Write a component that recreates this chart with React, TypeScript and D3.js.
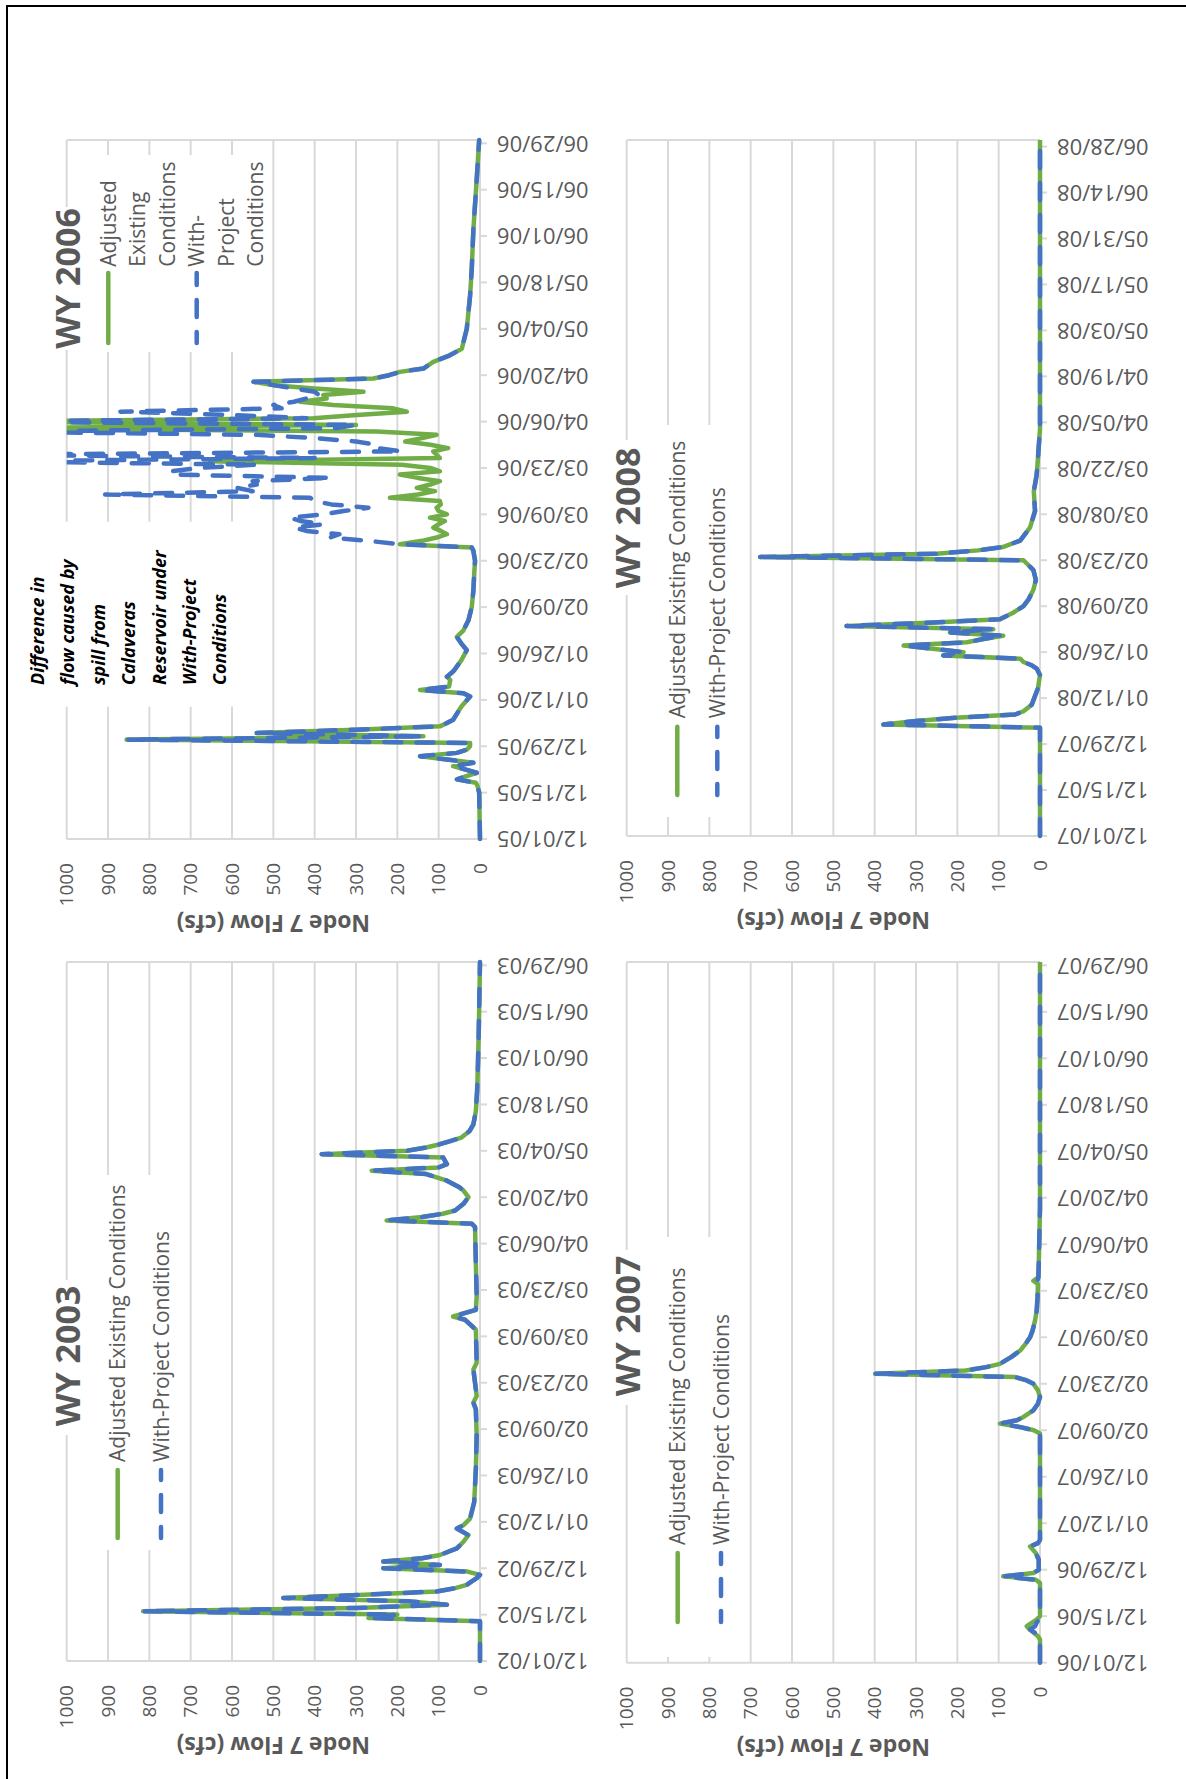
import React from 'react';
import * as d3 from 'd3';

// Node 7 daily flow (cfs); days are counted from Dec 1 of each water year
const wy2003Days = [0, 12, 13, 14, 15, 16, 17, 18, 19, 20, 21, 22, 23, 24, 25, 26, 27, 28, 29, 30, 31, 32, 34, 36, 38, 40, 41, 43, 48, 58, 68, 76, 78, 80, 84, 88, 90, 100, 103, 104, 106, 110, 120, 131, 132, 133, 134, 135, 136, 138, 140, 142, 143, 145, 147, 148, 149, 150, 151, 152, 153, 154, 155, 156, 157, 158, 160, 162, 166, 172, 180, 190, 211];
const wy2003Flow = [0, 0, 270, 200, 815, 300, 80, 170, 476, 280, 105, 60, 32, 20, 8, 0, 30, 234, 97, 234, 140, 97, 56, 40, 28, 56, 40, 24, 14, 10, 8, 10, 16, 8, 12, 16, 8, 10, 36, 65, 10, 8, 10, 12, 20, 226, 140, 90, 60, 40, 28, 40, 50, 80, 130, 262, 100, 80, 85, 89, 383, 177, 130, 97, 70, 45, 25, 16, 10, 7, 5, 3, 0];

const wy2006Days = [
  0, 14, 16, 17, 18, 20, 22, 23, 25, 26,
  27, 28, 29, 30, 31, 32, 33, 34, 35, 36,
  38, 40, 43, 44, 45, 46, 48, 49, 50, 51,
  54, 57, 59, 61, 63, 66, 70, 75, 80, 84,
  87, 88, 89, 90, 91, 92, 93, 94, 95, 96,
  97, 98, 99, 100, 101, 102, 103, 104, 105, 106,
  107, 108, 109, 110, 111, 112, 113, 114, 115, 116,
  117, 118, 119, 120, 121, 122, 123, 124, 125, 126,
  127, 128, 129, 130, 131, 132, 133, 134, 135, 136,
  137, 138, 139, 140, 141, 142, 144, 146, 148, 154,
  164, 172, 184, 199, 211,
];
const wy2006Adjusted = [
  0, 2, 6, 10, 56, 8, 65, 16, 145, 56,
  32, 24, 24, 855, 137, 540, 300, 97, 80, 65,
  55, 45, 24, 40, 145, 75, 72, 80, 70, 62,
  45, 32, 45, 56, 40, 28, 20, 16, 14, 12,
  16, 20, 194, 140, 105, 80, 95, 113, 100, 85,
  121, 80, 100, 105, 95, 97, 218, 150, 109, 153,
  120, 97, 150, 194, 97, 120, 190, 653, 97, 105,
  113, 77, 120, 181, 140, 105, 250, 1200, 300, 1200,
  403, 298, 177, 210, 355, 435, 371, 379, 282, 400,
  500, 548, 258, 220, 194, 137, 113, 73, 44, 32,
  24, 20, 16, 8, 2,
];
// With-Project flow differs from the adjusted flow only while Calaveras spills
const wy2006SpillDays = d3.range(89, 139);
const wy2006SpillFlow = [
  194, 270, 363, 340, 420, 450, 380, 435, 460, 380,
  330, 270, 360, 400, 411, 907, 550, 589, 540, 550,
  360, 740, 750, 680, 540, 1200, 400, 1200, 190, 250,
  250, 300, 400, 540, 1200, 350, 300, 1200, 420, 600,
  870, 480, 500, 450, 420, 390, 400, 450, 500, 548,
];

const wy2007Days = [0, 7, 8, 9, 10, 11, 12, 13, 14, 24, 25, 26, 27, 28, 31, 33, 35, 36, 37, 69, 70, 71, 72, 73, 74, 76, 78, 80, 82, 84, 85, 86, 87, 88, 89, 90, 92, 94, 96, 98, 100, 103, 106, 110, 114, 115, 116, 120, 137, 211];
const wy2007Adjusted = [0, 0, 5, 15, 25, 32, 20, 8, 0, 0, 10, 89, 16, 3, 3, 10, 24, 5, 0, 0, 15, 50, 97, 56, 40, 16, 5, 0, 5, 16, 32, 60, 399, 180, 130, 97, 70, 48, 35, 24, 18, 12, 8, 6, 5, 16, 4, 3, 0, 0];
const wy2007Project = [0, 0, 5, 12, 24, 12, 8, 3, 0, 0, 10, 89, 16, 3, 3, 10, 24, 5, 0, 0, 15, 50, 97, 56, 40, 16, 5, 0, 5, 16, 32, 60, 399, 180, 130, 97, 70, 48, 35, 24, 18, 12, 8, 6, 5, 6, 4, 3, 0, 0];

const wy2008Days = [0, 33, 34, 35, 36, 37, 38, 40, 42, 45, 49, 51, 52, 53, 54, 55, 56, 58, 59, 60, 61, 62, 63, 64, 65, 66, 68, 70, 72, 75, 78, 81, 83, 84, 85, 86, 87, 88, 90, 94, 99, 105, 110, 115, 124, 212];
const wy2008Flow = [0, 0, 379, 300, 205, 60, 40, 20, 14, 5, 0, 8, 20, 40, 48, 234, 185, 330, 177, 137, 89, 218, 113, 468, 258, 97, 65, 40, 28, 16, 10, 16, 32, 40, 677, 250, 150, 90, 48, 24, 12, 15, 8, 5, 0, 0];

const valueTicks = d3.range(0, 1001, 100);
const tickDays = d3.range(0, 211, 14);

const GREEN = '#70AD47';
const BLUE = '#4472C4';
const GRID = '#D9D9D9';
const TEXT = '#595959';
const FONT = "'Open Sans', 'Noto Sans', sans-serif";
const LINE_GAP = 29.5;
const LINE_W = 4.5;
const DASH = '17 15';

type Pt = [number, number];

const pts = (days: number[], flow: number[]) => d3.zip(days, flow) as Pt[];

const wy2006Green = pts(wy2006Days, wy2006Adjusted);
const wy2006Blue = [
  ...wy2006Green.filter(p => p[0] < 89),
  ...pts(wy2006SpillDays, wy2006SpillFlow),
  ...wy2006Green.filter(p => p[0] > 138),
];

interface LegendEntry { color: string; dashed: boolean; x: number; y0: number; y1: number; textY: number; lines: string[]; }
interface PanelCfg {
  id: string; start: string; end: string;
  left: number; right: number; top: number; bottom: number;
  title: string; titleX: number; titleY: number;
  titleBox: number[]; legendBox: number[];
  legend: LegendEntry[];
  green: Pt[]; blue: Pt[];
}

const entries = (gx: number, bx: number, y0: number, y1: number, textY: number, g: string[], b: string[]): LegendEntry[] => [
  { color: GREEN, dashed: false, x: gx, y0, y1, textY, lines: g },
  { color: BLUE, dashed: true, x: bx, y0, y1, textY, lines: b },
];

const panels: PanelCfg[] = [
  {
    id: 'p2006', start: '2005-12-01', end: '2006-06-30',
    left: 66.7, right: 480, top: 140, bottom: 839,
    title: 'WY 2006', titleX: 80, titleY: 278.5,
    titleBox: [48, 207, 38, 143], legendBox: [88, 155, 180, 197],
    legend: entries(108.3, 196.7, 343, 273, 266.7, ['Adjusted', 'Existing', 'Conditions'], ['With-', 'Project', 'Conditions']),
    green: wy2006Green, blue: wy2006Blue,
  },
  {
    id: 'p2008', start: '2007-12-01', end: '2008-06-30',
    left: 626.7, right: 1040, top: 140, bottom: 836,
    title: 'WY 2008', titleX: 640, titleY: 518,
    titleBox: [608, 440, 38, 155], legendBox: [648, 425, 100, 392],
    legend: entries(677.3, 717.3, 795, 726.7, 718.3, ['Adjusted Existing Conditions'], ['With-Project Conditions']),
    green: pts(wy2008Days, wy2008Flow), blue: pts(wy2008Days, wy2008Flow),
  },
  {
    id: 'p2003', start: '2002-12-01', end: '2003-06-30',
    left: 66.7, right: 480, top: 962, bottom: 1661,
    title: 'WY 2003', titleX: 80, titleY: 1356,
    titleBox: [48, 1280, 38, 155], legendBox: [88, 1175, 100, 375],
    legend: entries(117.7, 161, 1538, 1470, 1462, ['Adjusted Existing Conditions'], ['With-Project Conditions']),
    green: pts(wy2003Days, wy2003Flow), blue: pts(wy2003Days, wy2003Flow),
  },
  {
    id: 'p2007', start: '2006-12-01', end: '2007-06-30',
    left: 626.7, right: 1040, top: 962, bottom: 1662.7,
    title: 'WY 2007', titleX: 640, titleY: 1326,
    titleBox: [608, 1250, 38, 155], legendBox: [648, 1237, 100, 420],
    legend: entries(677.7, 721, 1622, 1553, 1545, ['Adjusted Existing Conditions'], ['With-Project Conditions']),
    green: pts(wy2007Days, wy2007Adjusted), blue: pts(wy2007Days, wy2007Project),
  },
];

const noteLines = ['Difference in', 'flow caused by', 'spill from', 'Calaveras', 'Reservoir under', 'With-Project', 'Conditions'];

const parse = d3.utcParse('%Y-%m-%d');
const fmt = d3.utcFormat('%m/%d/%y');

function Panel({ cfg }: { cfg: PanelCfg }) {
  const start = parse(cfg.start)!;
  const end = parse(cfg.end)!;
  const y = d3.scaleUtc().domain([start, end]).range([cfg.bottom, cfg.top]);
  const x = d3.scaleLinear().domain([0, 1000]).range([cfg.right, cfg.left]);
  const line = d3.line<Pt>()
    .x(d => x(d[1]))
    .y(d => y(d3.utcDay.offset(start, d[0])));
  const ticks = tickDays.map(d => d3.utcDay.offset(start, d));
  const clip = `clip-${cfg.id}`;
  const [tbx, tby, tbw, tbh] = cfg.titleBox;
  const [lbx, lby, lbw, lbh] = cfg.legendBox;

  return (
    <g>
      <defs>
        <clipPath id={clip}>
          <rect x={cfg.left} y={cfg.top - 6} width={cfg.right - cfg.left + 8} height={cfg.bottom - cfg.top + 12} />
        </clipPath>
      </defs>
      {valueTicks.map(v => (
        <line key={v} x1={x(v)} x2={x(v)} y1={cfg.top} y2={cfg.bottom} stroke={GRID} strokeWidth={2} />
      ))}
      <line x1={cfg.left} x2={cfg.right} y1={cfg.top} y2={cfg.top} stroke={GRID} strokeWidth={2} />
      <line x1={cfg.left} x2={cfg.right} y1={cfg.bottom} y2={cfg.bottom} stroke={GRID} strokeWidth={2} />
      {ticks.map(t => (
        <line key={+t} x1={cfg.right} x2={cfg.right + 7} y1={y(t)} y2={y(t)} stroke={GRID} strokeWidth={2} />
      ))}
      {valueTicks.map(v => (
        <text key={v} transform={`translate(${x(v)},${cfg.bottom + 24}) rotate(-90)`} textAnchor="end" dy="0.35em"
          fontSize={19} fill={TEXT}>{v}</text>
      ))}
      {ticks.map(t => (
        <text key={+t} transform={`translate(${cfg.right + 17},${y(t)}) rotate(180)`} textAnchor="end" dy="0.35em"
          fontSize={22} fill={TEXT}>{fmt(t)}</text>
      ))}
      <text transform={`translate(${(cfg.left + cfg.right) / 2},${cfg.bottom + 84}) rotate(180)`} textAnchor="middle"
        dy="0.35em" fontSize={23} fontWeight={700} fill={TEXT}>Node 7 Flow (cfs)</text>

      <rect x={tbx} y={tby} width={tbw} height={tbh} fill="#fff" />
      <rect x={lbx} y={lby} width={lbw} height={lbh} fill="#fff" />

      <g clipPath={`url(#${clip})`}>
        <path d={line(cfg.green) ?? ''} fill="none" stroke={GREEN} strokeWidth={LINE_W} strokeLinejoin="round" />
        <path d={line(cfg.blue) ?? ''} fill="none" stroke={BLUE} strokeWidth={LINE_W} strokeLinejoin="round"
          strokeLinecap="round" strokeDasharray={DASH} />
      </g>

      <text transform={`translate(${cfg.titleX},${cfg.titleY}) rotate(-90)`} textAnchor="middle"
        fontSize={34} fontWeight={700} fill={TEXT}>{cfg.title}</text>

      {cfg.legend.map((e, i) => (
        <g key={i}>
          <line x1={e.x} x2={e.x} y1={e.y0} y2={e.y1} stroke={e.color} strokeWidth={LINE_W}
            strokeLinecap="round" strokeDasharray={e.dashed ? DASH : undefined} strokeDashoffset={e.dashed ? 6 : undefined} />
          {e.lines.map((s, j) => (
            <text key={j} transform={`translate(${e.x + 7.5 + j * LINE_GAP},${e.textY}) rotate(-90)`}
              fontSize={21} fill={TEXT}>{s}</text>
          ))}
        </g>
      ))}
    </g>
  );
}

export default function App() {
  return (
    <svg width={1186} height={1779} style={{ position: 'absolute', left: 0, top: 0, background: '#fff' }}
      fontFamily={FONT}>
      <rect width={1186} height={1779} fill="#fff" />
      <path d="M7,1779 V6 H1186" fill="none" stroke="#000" strokeWidth={2} />
      {panels.map(p => <Panel key={p.id} cfg={p} />)}
      <rect x={30} y={521.7} width={206} height={185} fill="#fff" />
      {noteLines.map((s, i) => (
        <text key={i} transform={`translate(${44 + i * 30.4},685) rotate(-90)`} fontSize={18}
          fontWeight={700} fontStyle="italic" fill="#000">{s}</text>
      ))}
    </svg>
  );
}
